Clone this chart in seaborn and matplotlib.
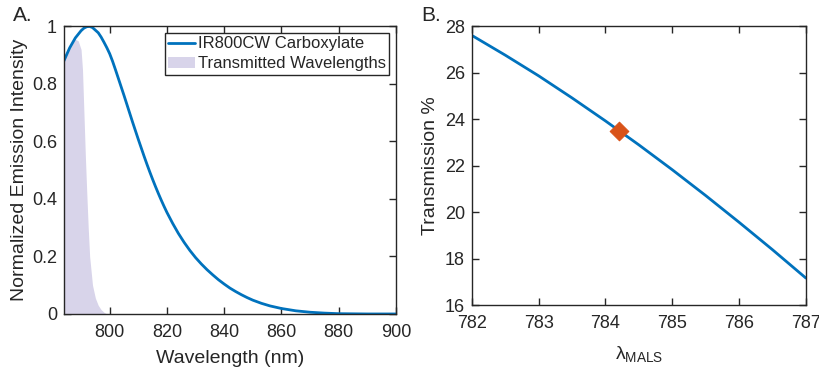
import numpy as np
import pandas as pd
import seaborn as sns
import matplotlib.pyplot as plt

# Panel A: emission spectrum of IR800CW carboxylate
em_wavelength = [784, 786, 788, 790, 791, 792, 793, 794, 796, 797, 798, 799, 800,
                 801, 802, 803, 804, 805, 806, 807, 808, 809, 810, 811, 812, 813,
                 814, 815, 816, 817, 818, 819, 820, 822, 824, 826, 828, 830, 832,
                 834, 836, 838, 840, 842, 844, 846, 848, 850, 853, 856, 860, 865,
                 870, 875, 880, 890, 900]
em_intensity = [0.88, 0.925, 0.96, 0.985, 0.994, 0.999, 1.0, 0.996, 0.978, 0.963,
                0.945, 0.926, 0.905, 0.879, 0.85, 0.82, 0.79, 0.76, 0.729, 0.698,
                0.667, 0.637, 0.607, 0.578, 0.549, 0.521, 0.494, 0.468, 0.443,
                0.419, 0.396, 0.374, 0.353, 0.315, 0.28, 0.249, 0.221, 0.196,
                0.174, 0.154, 0.136, 0.119, 0.104, 0.09, 0.078, 0.067, 0.057,
                0.048, 0.037, 0.028, 0.019, 0.011, 0.006, 0.003, 0.001, 0.0, 0.0]

# transmitted band (shaded)
tr_wavelength = [784, 785, 786, 787, 788, 789, 790, 790.5, 791, 791.5, 792, 792.5,
                 793, 794, 795, 796, 797, 798, 799]
tr_intensity = [0.89, 0.91, 0.93, 0.945, 0.955, 0.95, 0.92, 0.85, 0.70, 0.55, 0.42,
                0.30, 0.20, 0.10, 0.055, 0.03, 0.015, 0.006, 0.0]

# Panel B: transmission vs lambda_MALS
mals_wavelength = [782, 782.5, 783, 783.5, 784, 784.5, 785, 785.5, 786, 786.5, 787]
transmission = [27.6, 26.75, 25.86, 24.91, 23.92, 22.89, 21.82, 20.71, 19.56, 18.38, 17.16]
marker_x = [784.2]
marker_y = [23.5]

sns.set_theme(style="ticks")
plt.rcParams['font.family'] = ['Liberation Sans', 'DejaVu Sans']
plt.rcParams['mathtext.fontset'] = 'custom'
plt.rcParams['mathtext.rm'] = 'Liberation Sans'
plt.rcParams['mathtext.it'] = 'Liberation Sans'

blue = '#0072BD'
orange = '#D95319'
shade = '#d8d4ea'
dark = '#262626'

fig = plt.figure(figsize=(8.19, 3.72), dpi=100)
ax1 = fig.add_axes([0.078, 0.156, 0.4055, 0.773])
ax2 = fig.add_axes([0.576, 0.180, 0.408, 0.750])

em = pd.DataFrame({'wl': em_wavelength, 'y': em_intensity})
ax1.fill_between(tr_wavelength, tr_intensity, 0, color=shade, lw=0,
                 label='Transmitted Wavelengths')
sns.lineplot(data=em, x='wl', y='y', ax=ax1, color=blue, lw=2,
             label='IR800CW Carboxylate')
ax1.set_xlim(784, 900)
ax1.set_ylim(0, 1)
ax1.set_xticks([800, 820, 840, 860, 880, 900])
ax1.set_yticks([0, 0.2, 0.4, 0.6, 0.8, 1])
ax1.set_yticklabels(['0', '0.2', '0.4', '0.6', '0.8', '1'])
ax1.set_xlabel('Wavelength (nm)', fontsize=14, color=dark, labelpad=7)
ax1.set_ylabel('Normalized Emission Intensity', fontsize=14, color=dark, labelpad=3)
h, l = ax1.get_legend_handles_labels()
order = [l.index('IR800CW Carboxylate'), l.index('Transmitted Wavelengths')]
leg = ax1.legend([h[i] for i in order], [l[i] for i in order], loc='upper right',
                 fontsize=12, frameon=True, fancybox=False, framealpha=1,
                 edgecolor=dark, borderaxespad=0.4, handlelength=1.6,
                 handletextpad=0.2, borderpad=0.2, labelspacing=0.3)
leg.get_frame().set_linewidth(1.0)

tr = pd.DataFrame({'wl': mals_wavelength, 'T': transmission})
sns.lineplot(data=tr, x='wl', y='T', ax=ax2, color=blue, lw=2)
sns.scatterplot(x=marker_x, y=marker_y, ax=ax2, marker='D', s=90, color=orange,
                edgecolor=orange, zorder=5)
ax2.set_xlim(782, 787)
ax2.set_ylim(16, 28)
ax2.set_xticks([782, 783, 784, 785, 786, 787])
ax2.set_yticks([16, 18, 20, 22, 24, 26, 28])
ax2.set_xlabel(r'$\lambda_{\mathrm{MALS}}$', fontsize=14, color=dark, labelpad=9)
ax2.set_ylabel('Transmission %', fontsize=14, color=dark, labelpad=4)

for ax in (ax1, ax2):
    ax.tick_params(direction='in', top=True, right=True, labelsize=13,
                   colors=dark, length=5, width=1)
    ax.tick_params(axis='x', pad=7)
    ax.tick_params(axis='y', pad=5)
    for s in ax.spines.values():
        s.set_visible(True)
        s.set_color(dark)
        s.set_linewidth(1.0)

fig.text(0.016, 0.958, 'A.', fontsize=15, color=dark, va='center')
fig.text(0.514, 0.958, 'B.', fontsize=15, color=dark, va='center')

fig.savefig('out.png', dpi=100)
